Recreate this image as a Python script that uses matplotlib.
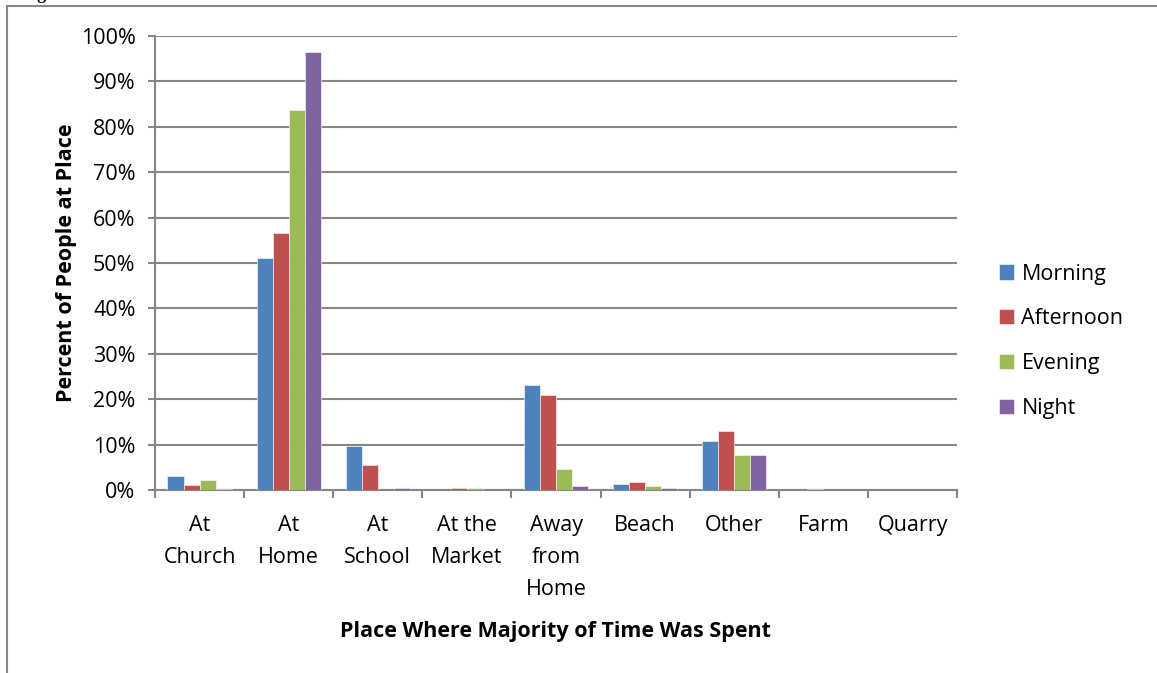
import matplotlib.pyplot as plt
import numpy as np
from matplotlib.patches import Rectangle
from matplotlib.ticker import PercentFormatter, FixedLocator, NullFormatter

places = ['At\nChurch', 'At\nHome', 'At\nSchool', 'At the\nMarket', 'Away\nfrom\nHome',
          'Beach', 'Other', 'Farm', 'Quarry']
morning = [3.0, 51.0, 9.6, 0.0, 23.2, 1.3, 10.7, 0.1, 0.1]
afternoon = [1.1, 56.5, 5.5, 0.4, 21.0, 1.7, 12.9, 0.3, 0.1]
evening = [2.2, 83.8, 0.0, 0.5, 4.7, 0.9, 7.6, 0.0, 0.0]
night = [0.2, 96.5, 0.5, 0.0, 0.9, 0.4, 7.6, 0.0, 0.0]

series = [('Morning', morning, '#4F81BD'),
          ('Afternoon', afternoon, '#C0504D'),
          ('Evening', evening, '#9BBB59'),
          ('Night', night, '#8064A2')]

plt.rcParams['font.family'] = ['Open Sans', 'DejaVu Sans']
grid_col = '#868686'
fs = 15.5

fig = plt.figure(figsize=(11.57, 6.73), dpi=100)
ax = fig.add_axes([155/1157, 1 - 490/673, 802/1157, 454/673])

# outer frame of the chart object (right/bottom edges cut off)
fig.patches.append(Rectangle((7/1157, -0.1), 1.2, 1 - 6/673 + 0.1, transform=fig.transFigure,
                             fill=False, edgecolor='#878787', linewidth=1.5))
# caption above the chart, cut off by the page crop
fig.text(22/1157, 1 + 1/673, 'Figure', fontsize=13, fontweight='bold',
         family='Liberation Serif', va='baseline')

x = np.arange(len(places))
barWidth = 0.18
for i, (name, vals, col) in enumerate(series):
    ax.bar(x + (i - 1.5) * barWidth, vals, width=barWidth, color=col,
           edgecolor='white', linewidth=0.4, label=name, zorder=3)

ax.set_ylim(0, 100)
ax.set_xlim(-0.5, len(places) - 0.5)
ax.set_yticks(np.arange(0, 101, 10))
ax.yaxis.set_major_formatter(PercentFormatter(decimals=0))
ax.grid(axis='y', color=grid_col, linewidth=1.5, zorder=0)

# category boundaries get the tick marks, labels sit in between
ax.xaxis.set_major_locator(FixedLocator(np.arange(-0.5, len(places), 1)))
ax.xaxis.set_major_formatter(NullFormatter())
ax.xaxis.set_minor_locator(FixedLocator(x))
ax.set_xticklabels(places, minor=True, linespacing=1.7)
ax.tick_params(axis='x', which='major', length=6, width=1.5, color=grid_col, direction='out')
ax.tick_params(axis='x', which='minor', length=0, pad=18, labelsize=fs)
ax.tick_params(axis='y', length=5, width=1.5, color=grid_col, labelsize=fs, pad=9)

for s in ['top', 'right']:
    ax.spines[s].set_visible(False)
for s in ['left', 'bottom']:
    ax.spines[s].set_color(grid_col)
    ax.spines[s].set_linewidth(1.5)

ax.set_xlabel('Place Where Majority of Time Was Spent', fontsize=fs, fontweight='bold', labelpad=15)
ax.set_ylabel('Percent of People at Place', fontsize=fs, fontweight='bold', labelpad=3)

ax.legend(loc='center left', bbox_to_anchor=(1.028, 0.328), frameon=False, fontsize=fs,
          handlelength=0.7, handleheight=0.7, handletextpad=0.35, labelspacing=1.1)

fig.savefig('out.png', dpi=100)
